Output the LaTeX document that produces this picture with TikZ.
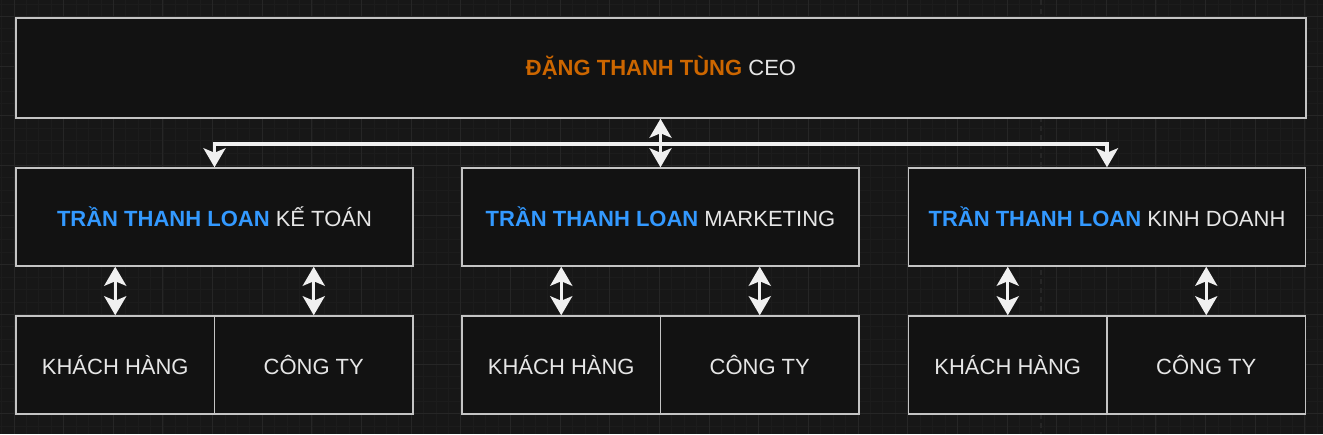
\documentclass[tikz,border=0pt]{standalone}
\usepackage{fontspec}
\setmainfont{Liberation Sans}
\usetikzlibrary{arrows.meta}
\definecolor{bgc}{HTML}{171717}
\definecolor{minorc}{HTML}{1C1C1C}
\definecolor{majorc}{HTML}{262626}
\definecolor{boxfill}{HTML}{121212}
\definecolor{boxline}{HTML}{C4C4C4}
\definecolor{txt}{HTML}{E6E6E6}
\definecolor{ceoorange}{HTML}{CC6600}
\definecolor{nameblue}{HTML}{3399FF}
\definecolor{arrowc}{HTML}{F0F0F0}
\tikzset{
  card/.style={draw=boxline, line width=1.5pt, fill=boxfill, text=txt, inner sep=0pt,
    font=\fontsize{22}{26}\selectfont},
  topcard/.style={card, minimum width=1290pt, minimum height=100pt},
  midcard/.style={card, minimum width=397pt, minimum height=98pt},
  subcard/.style={card, minimum width=198.5pt, minimum height=98pt},
  conn/.style={draw=arrowc, line width=3.2pt},
  dtip/.style={{Stealth[length=19pt,width=22pt,inset=4.5pt]}-{Stealth[length=19pt,width=22pt,inset=4.5pt]}}
}
\begin{document}
\begin{tikzpicture}[x=1pt,y=-1pt]
\useasboundingbox (0,0) rectangle (1323,434);
\fill[bgc] (0,0) rectangle (1323,434);
% minor grid
\foreach \i in {0,...,107} {
  \draw[minorc, line width=0.8pt] ({1.6+12.4125*\i},0) -- ({1.6+12.4125*\i},434);
}
\foreach \j in {0,...,36} {
  \draw[minorc, line width=0.8pt] (0,{4.05+12.4125*\j}) -- (1323,{4.05+12.4125*\j});
}
% major grid
\foreach \i in {0,...,26} {
  \draw[majorc, line width=1pt] ({14+49.65*\i},0) -- ({14+49.65*\i},434);
}
\foreach \j in {0,...,8} {
  \draw[majorc, line width=1pt] (0,{16.45+49.65*\j}) -- (1323,{16.45+49.65*\j});
}
\draw[majorc, line width=1.2pt, dash pattern=on 5pt off 4pt] (1041,0) -- (1041,434);

% nodes
\node[topcard] (ceo) at (661,68) {\textcolor{ceoorange}{\bfseries ĐẶNG THANH TÙNG} CEO};

\node[midcard] (k1) at (214.5,217) {\textcolor{nameblue}{\bfseries TRẦN THANH LOAN} KẾ TOÁN};
\node[midcard] (k2) at (660.5,217) {\textcolor{nameblue}{\bfseries TRẦN THANH LOAN} MARKETING};
\node[midcard] (k3) at (1107,217) {\textcolor{nameblue}{\bfseries TRẦN THANH LOAN} KINH DOANH};

\node[subcard] (a1) at (115.25,365) {KHÁCH HÀNG};
\node[subcard] (b1) at (313.75,365) {CÔNG TY};
\node[subcard] (a2) at (561.25,365) {KHÁCH HÀNG};
\node[subcard] (b2) at (759.75,365) {CÔNG TY};
\node[subcard] (a3) at (1007.75,365) {KHÁCH HÀNG};
\node[subcard] (b3) at (1206.25,365) {CÔNG TY};

% connectors
\coordinate (bus) at (660.5,144);
\draw[conn, dtip] (k1.north) |- (bus) -| (k3.north);
\draw[conn, dtip] (k2.north |- ceo.south) -- (k2.north);

\foreach \u/\l in {k1/a1, k1/b1, k2/a2, k2/b2, k3/a3, k3/b3} {
  \draw[conn, dtip] (\l.north |- \u.south) -- (\l.north);
}
\end{tikzpicture}
\end{document}
